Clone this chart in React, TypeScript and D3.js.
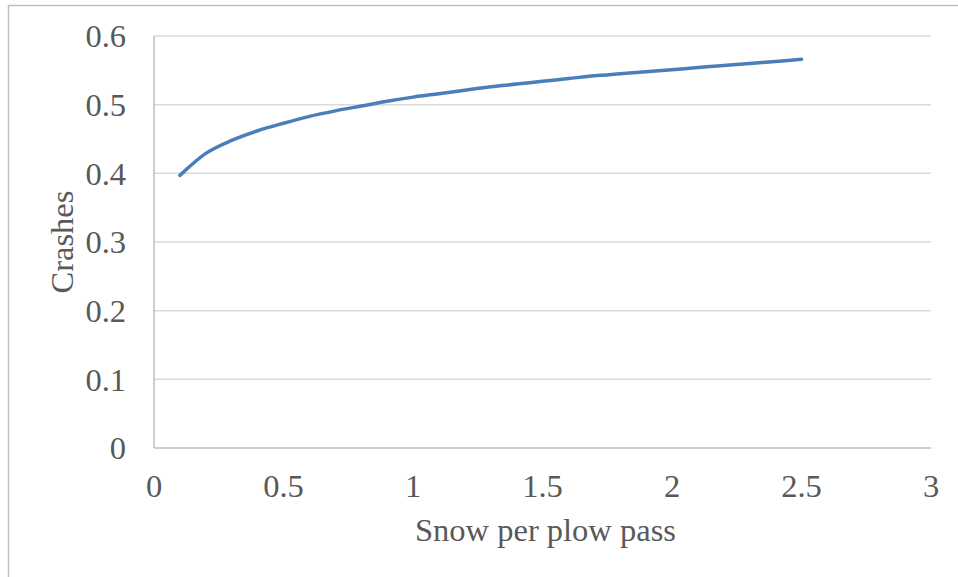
import React from "react";
import * as d3 from "d3";

const xValues = [0.1, 0.2, 0.3, 0.4, 0.5, 0.6, 0.7, 0.8, 0.9, 1.0, 1.1, 1.2, 1.3, 1.4, 1.5, 1.6, 1.7, 1.8, 1.9, 2.0, 2.1, 2.2, 2.3, 2.4, 2.5];
const crashes = [0.397, 0.429, 0.448, 0.462, 0.473, 0.483, 0.491, 0.498, 0.505, 0.511, 0.516, 0.521, 0.526, 0.530, 0.534, 0.538, 0.542, 0.545, 0.548, 0.551, 0.554, 0.557, 0.560, 0.563, 0.566];
const xTicks = [0, 0.5, 1, 1.5, 2, 2.5, 3];
const yTicks = [0, 0.1, 0.2, 0.3, 0.4, 0.5, 0.6];

const W = 958;
const H = 577;
const left = 154;
const right = 931;
const top = 36;
const bottom = 448;
const font = "'Liberation Serif', 'Times New Roman', serif";
const textColor = "#595959";
const fs = 32.5;

export default function App() {
  const x = d3.scaleLinear().domain([0, 3]).range([left, right]);
  const y = d3.scaleLinear().domain([0, 0.6]).range([bottom, top]);
  const line = d3
    .line<number>()
    .x((_, i) => x(xValues[i]))
    .y((d) => y(d))
    .curve(d3.curveMonotoneX);

  return (
    <svg
      width={W}
      height={H}
      style={{ position: "absolute", left: 0, top: 0, background: "#fff" }}
    >
      <rect x={0} y={0} width={W} height={H} fill="#fff" />
      <rect x={8.5} y={5.5} width={W + 10} height={H + 10} fill="none" stroke="#bfbfbf" strokeWidth={1.5} />
      {yTicks.map((t) => (
        <g key={"y" + t}>
          {t !== 0 && (
            <line x1={left} x2={right} y1={y(t)} y2={y(t)} stroke="#d9d9d9" strokeWidth={1.5} />
          )}
          <text
            x={126}
            y={y(t)}
            dy="0.35em"
            textAnchor="end"
            fontFamily={font}
            fontSize={fs}
            fill={textColor}
          >
            {String(t)}
          </text>
        </g>
      ))}
      <line x1={left} x2={left} y1={top} y2={bottom} stroke="#bfbfbf" strokeWidth={1.5} />
      <line x1={left} x2={right} y1={bottom} y2={bottom} stroke="#bfbfbf" strokeWidth={1.5} />
      {xTicks.map((t) => (
        <text
          key={"x" + t}
          x={x(t)}
          y={497}
          textAnchor="middle"
          fontFamily={font}
          fontSize={fs}
          fill={textColor}
        >
          {String(t)}
        </text>
      ))}
      <path
        d={line(crashes) || ""}
        fill="none"
        stroke="#4a7ebb"
        strokeWidth={3.5}
        strokeLinejoin="round"
        strokeLinecap="round"
      />
      <text
        x={(left + right) / 2 + 3}
        y={541}
        textAnchor="middle"
        fontFamily={font}
        fontSize={fs}
        fill={textColor}
      >
        Snow per plow pass
      </text>
      <text
        transform={`translate(73, ${(top + bottom) / 2}) rotate(-90)`}
        textAnchor="middle"
        fontFamily={font}
        fontSize={fs}
        fill={textColor}
      >
        Crashes
      </text>
    </svg>
  );
}
